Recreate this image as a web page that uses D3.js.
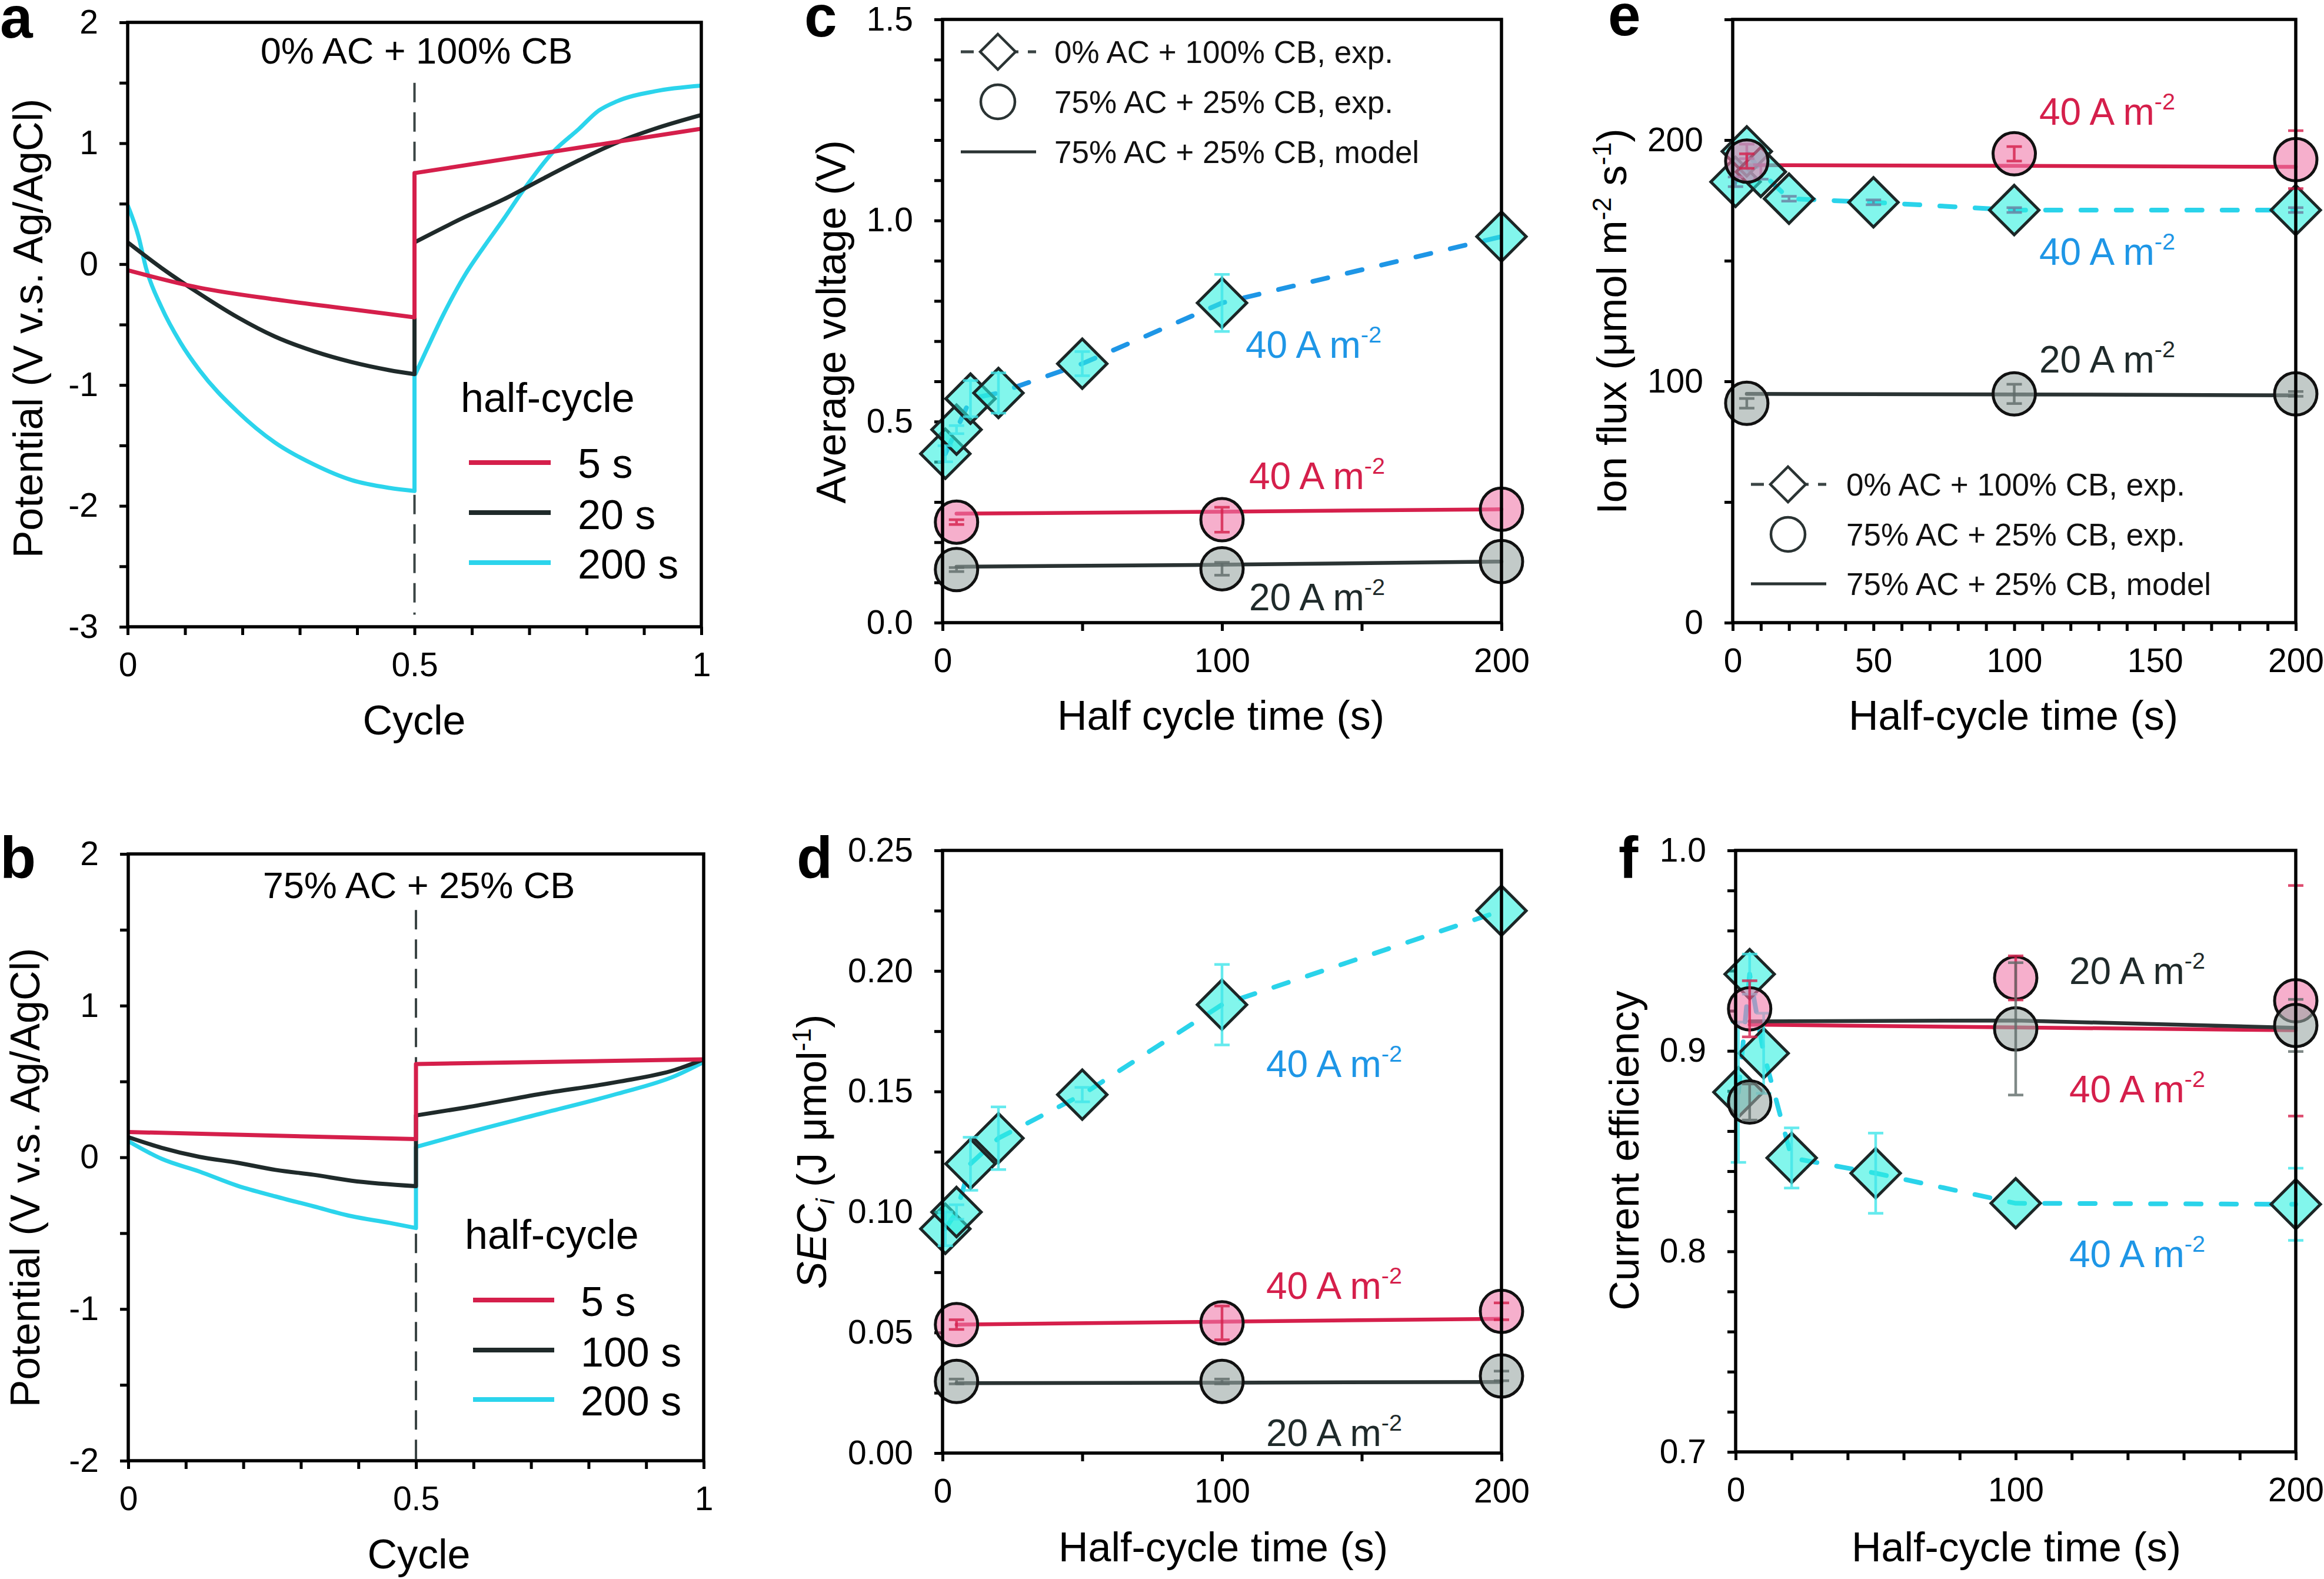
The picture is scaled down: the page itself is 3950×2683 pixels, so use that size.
<!DOCTYPE html>
<html><head><meta charset="utf-8">
<script src="https://cdn.jsdelivr.net/npm/d3@7"></script>
<style>body{margin:0;background:#fff}</style>
</head><body>
<svg id="chart" width="3950" height="2683" xmlns="http://www.w3.org/2000/svg"></svg>
<script>
// ---------------- DATA ----------------
// Panel a : 0% AC + 100% CB potential profiles [cycle, potential]; first half then second half
const aCurve5s = [[[0,-0.05],[0.125,-0.195],[0.257,-0.292],[0.39,-0.373],[0.5,-0.44]], [[0.5,0.753],[1,1.12]]];
const aCurve20s = [[[0,0.18],[0.059,-0.032],[0.125,-0.244],[0.191,-0.438],[0.257,-0.60],[0.324,-0.72],[0.39,-0.81],[0.456,-0.877],[0.5,-0.91]],
  [[0.5,0.18],[0.588,0.39],[0.655,0.535],[0.721,0.70],[0.787,0.86],[0.853,1.006],[0.919,1.12],[1,1.234]]];
const aCurve200s = [[[0,0.487],[0.019,0.227],[0.032,-0.032],[0.059,-0.357],[0.092,-0.649],[0.125,-0.877],[0.191,-1.218],[0.257,-1.477],[0.324,-1.656],[0.39,-1.786],[0.456,-1.851],[0.5,-1.877]],
  [[0.5,-0.925],[0.522,-0.70],[0.549,-0.43],[0.588,-0.09],[0.622,0.15],[0.655,0.37],[0.688,0.60],[0.741,0.925],[0.787,1.12],[0.82,1.266],[0.853,1.347],[0.919,1.43],[1,1.477]]];
// Panel b : 75% AC + 25% CB
const bCurve5s = [[[0,0.167],[0.5,0.12]], [[0.5,0.615],[1,0.646]]];
const bCurve100s = [[[0,0.133],[0.058,0.063],[0.124,0.003],[0.19,-0.036],[0.256,-0.083],[0.322,-0.115],[0.388,-0.154],[0.5,-0.19]],
  [[0.5,0.276],[0.586,0.328],[0.718,0.419],[0.85,0.497],[0.95,0.576],[1,0.646]]];
const bCurve200s = [[[0,0.107],[0.058,-0.010],[0.124,-0.094],[0.19,-0.1875],[0.256,-0.258],[0.322,-0.323],[0.388,-0.388],[0.454,-0.432],[0.5,-0.466]],
  [[0.5,0.068],[0.586,0.159],[0.718,0.289],[0.85,0.419],[0.95,0.536],[1,0.628]]];
const aLegend = ["5 s","20 s","200 s"];
const bLegend = ["5 s","100 s","200 s"];

// Half-cycle times
const timesCB = [1, 5, 10, 20, 50, 100, 200];   // 0% AC + 100% CB, exp.
const timesAC = [5, 100, 200];                  // 75% AC + 25% CB, exp. & model

// Panel c : average voltage (V)
const voltCB40 = [0.42, 0.48, 0.557, 0.571, 0.644, 0.795, 0.96];
const voltCB40Err = [0.02, 0.01, 0.045, 0.05, 0.03, 0.071, 0];
const voltAC40 = [0.25, 0.256, 0.282];
const voltAC40Err = [0.006, 0.031, 0];
const voltAC20 = [0.132, 0.134, 0.152];
const voltAC20Err = [0.005, 0.016, 0];
const voltModel40 = [0.271, 0.276, 0.282];
const voltModel20 = [0.139, 0.144, 0.152];

// Panel d : SEC_i (J/umol)
const secCB40 = [0.093, 0.100, 0.120, 0.1306, 0.1487, 0.186, 0.225];
const secCB40Err = [0.007, 0.003, 0.011, 0.013, 0.003, 0.0167, 0];
const secAC40 = [0.0533, 0.054, 0.0588];
const secAC40Err = [0.002, 0.007, 0.0035];
const secAC20 = [0.0297, 0.0297, 0.032];
const secAC20Err = [0.001, 0.001, 0.002];
const secModel40 = [0.0533, 0.0545, 0.0557];
const secModel20 = [0.029, 0.0292, 0.0295];

// Panel e : ion flux (umol m-2 s-1)
const fluxCB40 = [182.7, 195.3, 186.8, 175.7, 174.2, 171.0, 171.0];
const fluxCB40Err = [2, 3, 3, 1, 1, 1, 1];
const fluxAC40 = [191.3, 194.3, 191.9];
const fluxAC40Err = [3, 3, 12];
const fluxAC20 = [90.9, 94.8, 94.8];
const fluxAC20Err = [2, 4, 1];
const fluxModel40 = [189.6, 189.3, 188.9];
const fluxModel20 = [94.8, 94.6, 94.2];

// Panel f : current efficiency
const ceCB40 = [0.8794, 0.9383, 0.8988, 0.8466, 0.839, 0.824, 0.8235];
const ceCB40Err = [0.035, 0.01, 0.02, 0.015, 0.02, 0, 0.018];
const ceAC40 = [0.921, 0.9364, 0.925];
const ceAC40Err = [0.014, 0.011, 0.0575];
const ceAC20 = [0.8745, 0.911, 0.9127];
const ceAC20Err = [0.009, 0.033, 0.013];
const ceModel40 = [0.9131, 0.9117, 0.9103];
const ceModel20 = [0.9147, 0.9152, 0.9115];

// Tick labels
const cycleLabels = [0, 0.5, 1];
const aYLabels = [-3, -2, -1, 0, 1, 2];
const bYLabels = [-2, -1, 0, 1, 2];
const cYLabels = [0, 0.5, 1.0, 1.5];
const dYLabels = [0, 0.05, 0.10, 0.15, 0.20, 0.25];
const eYLabels = [0, 100, 200];
const fYLabels = [0.7, 0.8, 0.9, 1.0];
const timeLabels3 = [0, 100, 200];
const timeLabels5 = [0, 50, 100, 150, 200];
const legendEntries = ["0% AC + 100% CB, exp.", "75% AC + 25% CB, exp.", "75% AC + 25% CB, model"];

// ---------------- STYLE ----------------
const FONT = "'Liberation Sans', Arial, Helvetica, sans-serif";
const RED = "#d51f4b", DARK = "#1f2a2a", CYAN = "#2ad3ea", BLUE = "#1e96e6", CURVE_CYAN = "#2bd4ec";
const svg = d3.select("#chart").style("font-family", FONT);

function near(list, d) { return list.some(v => Math.abs(v - d) < 1e-9); }

function panel(cfg) {
  const g = svg.append("g");
  const x = d3.scaleLinear().domain(cfg.xDomain).range([cfg.l, cfg.r]);
  const y = d3.scaleLinear().domain(cfg.yDomain).range([cfg.b, cfg.t]);
  const xa = d3.axisBottom(x).tickValues(cfg.xTicks).tickSize(14).tickSizeOuter(0).tickPadding(30)
    .tickFormat(d => near(cfg.xLabels, d) ? cfg.xFmt(d) : "");
  const ya = d3.axisLeft(y).tickValues(cfg.yTicks).tickSize(14).tickSizeOuter(0).tickPadding(36)
    .tickFormat(d => near(cfg.yLabels, d) ? cfg.yFmt(d) : "");
  [ [xa, `translate(0,${cfg.b})`], [ya, `translate(${cfg.l},0)`] ].forEach(([ax, tr]) => {
    const ag = g.append("g").attr("transform", tr).call(ax)
      .attr("font-family", FONT).attr("font-size", 57);
    ag.select(".domain").remove();
    ag.selectAll(".tick line").attr("stroke", "#000").attr("stroke-width", 5);
    ag.selectAll(".tick text").attr("fill", "#000");
  });
  const plot = g.append("g");
  g.append("rect").attr("x", cfg.l).attr("y", cfg.t).attr("width", cfg.r - cfg.l).attr("height", cfg.b - cfg.t)
    .attr("fill", "none").attr("stroke", "#000").attr("stroke-width", 5.5);
  // panel letter
  g.append("text").attr("x", cfg.letterX).attr("y", cfg.letterY).text(cfg.letter)
    .attr("font-size", 100).attr("font-weight", "bold").attr("fill", "#000");
  // x title
  g.append("text").attr("x", cfg.xtX).attr("y", cfg.xtY).attr("text-anchor", "middle")
    .attr("font-size", 70).attr("fill", "#000").text(cfg.xTitle);
  // y title (rotated), parts: [text, kind]
  const yt = g.append("text").attr("transform", `translate(${cfg.ytX},${cfg.ytY}) rotate(-90)`)
    .attr("text-anchor", "middle").attr("font-size", 70).attr("fill", "#000");
  let shift = 0;
  cfg.yTitle.forEach(([txt, kind]) => {
    const t = yt.append("tspan").text(txt);
    let target = 0;
    if (kind === "sup") { t.attr("font-size", 44); target = -26; }
    else if (kind === "sub" || kind === "isub") { t.attr("font-size", 44); target = 14; }
    if (kind === "it" || kind === "isub") t.attr("font-style", "italic");
    t.attr("dy", target - shift); shift = target;
  });
  return { g: plot, top: g, x, y };
}

function amText(g, x, y, num, color, size = 64) {
  const t = g.append("text").attr("x", x).attr("y", y).attr("font-size", size).attr("fill", color);
  t.append("tspan").text(num + " A m");
  t.append("tspan").attr("font-size", size * 0.62).attr("dy", -size * 0.4).text("-2");
}

const diamondPath = s => `M0,${-s}L${s},0L0,${s}L${-s},0Z`;

function drawSeries(P, xs, ys, errs, kind, errColor) {
  const sel = P.g.append("g");
  xs.forEach((xv, i) => {
    const cx = P.x(xv), cy = P.y(ys[i]);
    if (kind === "diamond") {
      sel.append("path").attr("d", diamondPath(42)).attr("transform", `translate(${cx},${cy})`)
        .attr("fill", "#2ff0e0").attr("fill-opacity", 0.6).attr("stroke", "#1c2626").attr("stroke-width", 5)
        .attr("stroke-linejoin", "miter");
    } else {
      sel.append("circle").attr("cx", cx).attr("cy", cy).attr("r", 36)
        .attr("fill", kind === "pink" ? "#f07aaa" : "#9aa6a3").attr("fill-opacity", 0.6)
        .attr("stroke", "#111").attr("stroke-width", 5);
    }
  });
  xs.forEach((xv, i) => {
    if (!errs[i]) return;
    const cx = P.x(xv), y1 = P.y(ys[i] - errs[i]), y2 = P.y(ys[i] + errs[i]);
    const eg = sel.append("g").attr("stroke", errColor).attr("stroke-width", 4.5).attr("opacity", 0.8);
    eg.append("line").attr("x1", cx).attr("x2", cx).attr("y1", y1).attr("y2", y2);
    eg.append("line").attr("x1", cx - 13).attr("x2", cx + 13).attr("y1", y1).attr("y2", y1);
    eg.append("line").attr("x1", cx - 13).attr("x2", cx + 13).attr("y1", y2).attr("y2", y2);
  });
}

function drawLine(P, xs, ys, color, dashed) {
  const line = d3.line().x(d => P.x(d[0])).y(d => P.y(d[1]));
  const p = P.g.append("path").attr("d", line(xs.map((v, i) => [v, ys[i]])))
    .attr("fill", "none").attr("stroke", color).attr("stroke-linecap", "round").attr("stroke-linejoin", "round");
  if (dashed) p.attr("stroke-width", 8).attr("stroke-dasharray", "26,34");
  else p.attr("stroke-width", 6.5);
}

function legendBlock(P, lx, tx, baselines) {
  const g = P.top.append("g");
  const cy = baselines.map(b => b - 19);
  g.append("line").attr("x1", lx - 63).attr("x2", lx + 65).attr("y1", cy[0]).attr("y2", cy[0])
    .attr("stroke", "#3a4444").attr("stroke-width", 5).attr("stroke-dasharray", "22,16");
  g.append("path").attr("d", diamondPath(30)).attr("transform", `translate(${lx},${cy[0]})`)
    .attr("fill", "#fff").attr("stroke", "#2a3333").attr("stroke-width", 4.5);
  g.append("circle").attr("cx", lx).attr("cy", cy[1]).attr("r", 29).attr("fill", "none")
    .attr("stroke", "#2a3333").attr("stroke-width", 4.5);
  g.append("line").attr("x1", lx - 63).attr("x2", lx + 65).attr("y1", cy[2]).attr("y2", cy[2])
    .attr("stroke", "#2a3333").attr("stroke-width", 5);
  legendEntries.forEach((t, i) => g.append("text").attr("x", tx).attr("y", baselines[i])
    .attr("font-size", 53).attr("fill", "#111").text(t));
}

// ---------------- PANEL a & b ----------------
function potentialPanel(cfg, curves, labels, title, lg) {
  const P = panel(cfg);
  P.g.append("line").attr("x1", P.x(0.5)).attr("x2", P.x(0.5)).attr("y1", P.y(cfg.dashTop)).attr("y2", P.y(cfg.dashBot))
    .attr("stroke", "#3a4444").attr("stroke-width", 4).attr("stroke-dasharray", "33,17");
  const colors = [RED, DARK, CURVE_CYAN];
  const line = d3.line().x(d => P.x(d[0])).y(d => P.y(d[1])).curve(d3.curveMonotoneX);
  [2, 1, 0].forEach(i => {
    const [s1, s2] = curves[i];
    const d = line(s1) + line(s2).replace(/^M/, "L");
    P.g.append("path").attr("d", d).attr("fill", "none")
      .attr("stroke", colors[i]).attr("stroke-width", 7).attr("stroke-linejoin", "round");
  });
  P.top.append("text").attr("x", cfg.titleX).attr("y", cfg.titleY).attr("text-anchor", "middle")
    .attr("font-size", 63).attr("fill", "#000").text(title);
  P.top.append("text").attr("x", lg.x).attr("y", lg.hy).attr("font-size", 70).attr("fill", "#000").text("half-cycle");
  labels.forEach((t, i) => {
    P.top.append("line").attr("x1", lg.l1).attr("x2", lg.l2).attr("y1", lg.ly[i]).attr("y2", lg.ly[i])
      .attr("stroke", colors[i]).attr("stroke-width", 8);
    P.top.append("text").attr("x", lg.tx).attr("y", lg.ty[i]).attr("font-size", 70).attr("fill", "#000").text(t);
  });
}

const cycleTicks = d3.range(0, 1.0001, 0.1).map(v => +v.toFixed(2));
potentialPanel({
  l: 217, r: 1192, t: 38, b: 1065, xDomain: [0, 1], yDomain: [-3, 2],
  xTicks: cycleTicks, xLabels: cycleLabels, xFmt: d => String(d),
  yTicks: d3.range(-3, 2.001, 0.5), yLabels: aYLabels, yFmt: d => String(d),
  letter: "a", letterX: 0, letterY: 64, xTitle: "Cycle", xtX: 704, xtY: 1248,
  yTitle: [["Potential (V v.s. Ag/AgCl)", ""]], ytX: 72, ytY: 558,
  dashTop: 1.5, dashBot: -2.9, titleX: 708, titleY: 108
}, [aCurve5s, aCurve20s, aCurve200s], aLegend, "0% AC + 100% CB",
  { x: 783, hy: 700, l1: 797, l2: 936, ly: [786, 871, 956], tx: 982, ty: [812, 899, 983] });

potentialPanel({
  l: 218, r: 1196, t: 1451, b: 2482, xDomain: [0, 1], yDomain: [-2, 2],
  xTicks: cycleTicks, xLabels: cycleLabels, xFmt: d => String(d),
  yTicks: d3.range(-2, 2.001, 0.5), yLabels: bYLabels, yFmt: d => String(d),
  letter: "b", letterX: 0, letterY: 1492, xTitle: "Cycle", xtX: 712, xtY: 2665,
  yTitle: [["Potential (V v.s. Ag/AgCl)", ""]], ytX: 67, ytY: 2001,
  dashTop: 1.63, dashBot: -2, titleX: 712, titleY: 1526
}, [bCurve5s, bCurve100s, bCurve200s], bLegend, "75% AC + 25% CB",
  { x: 790, hy: 2122, l1: 804, l2: 942, ly: [2209, 2294, 2378], tx: 987, ty: [2236, 2322, 2405] });

// ---------------- PANEL c ----------------
{
  const P = panel({
    l: 1602, r: 2552, t: 33, b: 1058, xDomain: [0, 200], yDomain: [0, 1.5],
    xTicks: d3.range(0, 201, 50), xLabels: timeLabels3, xFmt: d => String(d),
    yTicks: d3.range(0, 15.01, 1).map(v => v / 10), yLabels: cYLabels, yFmt: d3.format(".1f"),
    letter: "c", letterX: 1367, letterY: 62, xTitle: "Half cycle time (s)", xtX: 2075, xtY: 1240,
    yTitle: [["Average voltage (V)", ""]], ytX: 1437, ytY: 547
  });
  drawLine(P, timesCB, voltCB40, BLUE, true);
  drawLine(P, timesAC, voltModel40, RED, false);
  drawLine(P, timesAC, voltModel20, "#2a3333", false);
  drawSeries(P, timesCB, voltCB40, voltCB40Err, "diamond", "#3fe6ea");
  drawSeries(P, timesAC, voltAC40, voltAC40Err, "pink", RED);
  drawSeries(P, timesAC, voltAC20, voltAC20Err, "gray", "#5f6b69");
  amText(P.top, 2117, 608, "40", BLUE);
  amText(P.top, 2123, 831, "40", RED);
  amText(P.top, 2123, 1037, "20", DARK);
  legendBlock(P, 1696, 1792, [107, 192, 277]);
}

// ---------------- PANEL d ----------------
{
  const P = panel({
    l: 1602, r: 2552, t: 1445, b: 2469, xDomain: [0, 200], yDomain: [0, 0.25],
    xTicks: d3.range(0, 201, 50), xLabels: timeLabels3, xFmt: d => String(d),
    yTicks: d3.range(0, 10.01, 1).map(v => v * 0.025), yLabels: dYLabels, yFmt: d3.format(".2f"),
    letter: "d", letterX: 1354, letterY: 1492, xTitle: "Half-cycle time (s)", xtX: 2079, xtY: 2653,
    yTitle: [["SEC", "it"], ["i", "isub"], [" (J μmol", ""], ["-1", "sup"], [")", ""]], ytX: 1404, ytY: 1957
  });
  drawLine(P, timesCB, secCB40, CYAN, true);
  drawLine(P, timesAC, secModel40, RED, false);
  drawLine(P, timesAC, secModel20, "#2a3333", false);
  drawSeries(P, timesCB, secCB40, secCB40Err, "diamond", "#3fe6ea");
  drawSeries(P, timesAC, secAC40, secAC40Err, "pink", RED);
  drawSeries(P, timesAC, secAC20, secAC20Err, "gray", "#5f6b69");
  amText(P.top, 2152, 1830, "40", BLUE);
  amText(P.top, 2152, 2207, "40", RED);
  amText(P.top, 2152, 2457, "20", DARK);
}

// ---------------- PANEL e ----------------
{
  const P = panel({
    l: 2945, r: 3902, t: 33, b: 1058, xDomain: [0, 200], yDomain: [0, 250],
    xTicks: d3.range(0, 201, 10), xLabels: timeLabels5, xFmt: d => String(d),
    yTicks: d3.range(0, 251, 50), yLabels: eYLabels, yFmt: d => String(d),
    letter: "e", letterX: 2733, letterY: 60, xTitle: "Half-cycle time (s)", xtX: 3422, xtY: 1240,
    yTitle: [["Ion flux (μmol m", ""], ["-2", "sup"], [" s", ""], ["-1", "sup"], [")", ""]], ytX: 2764, ytY: 546
  });
  drawLine(P, timesCB, fluxCB40, CYAN, true);
  drawLine(P, timesAC, fluxModel40, RED, false);
  drawLine(P, timesAC, fluxModel20, "#2a3333", false);
  drawSeries(P, timesCB, fluxCB40, fluxCB40Err, "diamond", "#6a7ea0");
  drawSeries(P, timesAC, fluxAC40, fluxAC40Err, "pink", RED);
  drawSeries(P, timesAC, fluxAC20, fluxAC20Err, "gray", "#5f6b69");
  amText(P.top, 3466, 212, "40", RED);
  amText(P.top, 3466, 450, "40", BLUE);
  amText(P.top, 3466, 633, "20", DARK);
  legendBlock(P, 3039, 3138, [842, 927, 1011]);
}

// ---------------- PANEL f ----------------
{
  const P = panel({
    l: 2950, r: 3902, t: 1445, b: 2467, xDomain: [0, 200], yDomain: [0.7, 1.0],
    xTicks: d3.range(0, 201, 20), xLabels: timeLabels3, xFmt: d => String(d),
    yTicks: d3.range(35, 50.01, 1).map(v => +(v * 0.02).toFixed(2)), yLabels: fYLabels, yFmt: d3.format(".1f"),
    letter: "f", letterX: 2751, letterY: 1492, xTitle: "Half-cycle time (s)", xtX: 3427, xtY: 2653,
    yTitle: [["Current efficiency", ""]], ytX: 2785, ytY: 1955
  });
  drawLine(P, timesCB, ceCB40, CYAN, true);
  drawLine(P, timesAC, ceModel40, RED, false);
  drawLine(P, timesAC, ceModel20, "#2a3333", false);
  drawSeries(P, timesCB, ceCB40, ceCB40Err, "diamond", "#3fe6ea");
  drawSeries(P, timesAC, ceAC40, ceAC40Err, "pink", RED);
  drawSeries(P, timesAC, ceAC20, ceAC20Err, "gray", "#5f6b69");
  amText(P.top, 3517, 1672, "20", DARK);
  amText(P.top, 3517, 1873, "40", RED);
  amText(P.top, 3517, 2153, "40", BLUE);
}
</script>
</body></html>
